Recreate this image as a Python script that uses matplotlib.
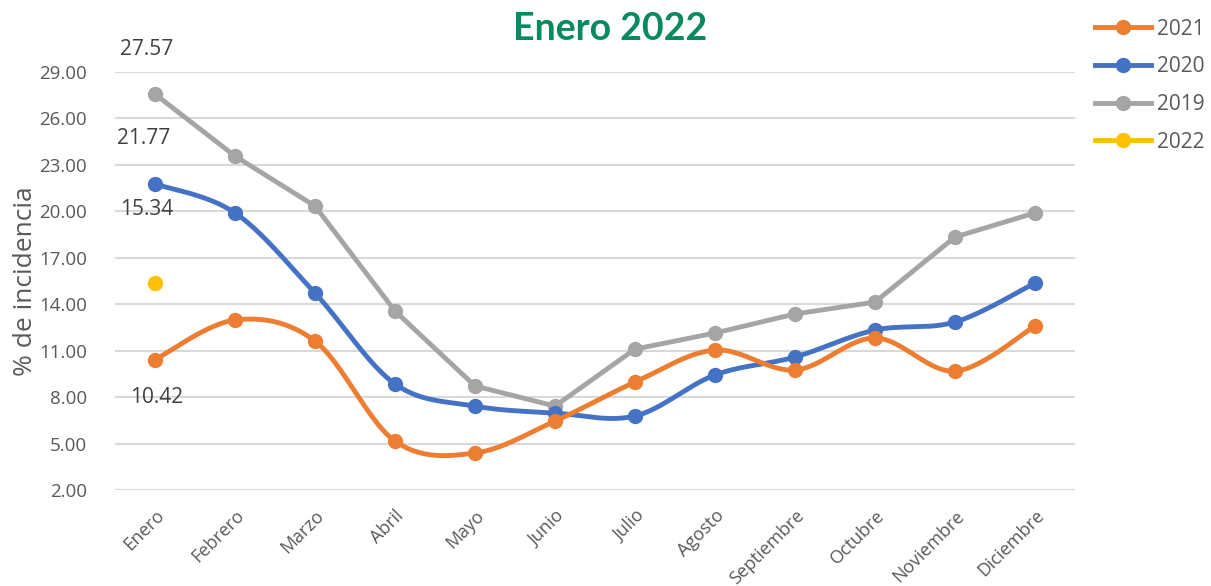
import numpy as np
import matplotlib
matplotlib.use("Agg")
import matplotlib.pyplot as plt
from matplotlib.lines import Line2D

months = ["Enero", "Febrero", "Marzo", "Abril", "Mayo", "Junio", "Julio",
          "Agosto", "Septiembre", "Octubre", "Noviembre", "Diciembre"]
y2021 = [10.42, 12.98, 11.62, 5.16, 4.39, 6.45, 8.97, 11.04, 9.75, 11.82, 9.68, 12.59]
y2020 = [21.77, 19.90, 14.72, 8.85, 7.42, 6.97, 6.78, 9.43, 10.59, 12.33, 12.85, 15.37]
y2019 = [27.57, 23.57, 20.34, 13.56, 8.72, 7.42, 11.10, 12.14, 13.37, 14.14, 18.34, 19.90]
y2022 = [15.34]
yticks = [2, 5, 8, 11, 14, 17, 20, 23, 26, 29]

C21, C20, C19, C22 = "#ED7D31", "#4472C4", "#A5A5A5", "#FFC000"
TXT = "#595959"
FONT = "Open Sans"


def smooth(xs, ys, n=30):
    xs = np.asarray(xs, float); ys = np.asarray(ys, float)
    P = np.column_stack([xs, ys])
    m = len(P)
    out = []
    for i in range(m - 1):
        p0 = P[i - 1] if i > 0 else P[i]
        p1 = P[i]; p2 = P[i + 1]
        p3 = P[i + 2] if i + 2 < m else P[i + 1]
        c1 = p1 + (p2 - p0) / 6.0
        c2 = p2 - (p3 - p1) / 6.0
        t = np.linspace(0, 1, n)[:, None]
        seg = ((1 - t) ** 3) * p1 + 3 * ((1 - t) ** 2) * t * c1 + 3 * (1 - t) * t ** 2 * c2 + t ** 3 * p2
        out.append(seg if i == 0 else seg[1:])
    S = np.vstack(out)
    return S[:, 0], S[:, 1]


fig = plt.figure(figsize=(12.11, 5.86), dpi=100)
ax = fig.add_axes([115 / 1211, 96 / 586, 960 / 1211, 418 / 586])

x = np.arange(len(months))
lw, ms = 3.5, 10

ax.plot(x, y2019, color=C19, lw=lw, marker="o", ms=ms, zorder=3)
sx, sy = smooth(x, y2020)
ax.plot(sx, sy, color=C20, lw=lw, zorder=4)
ax.plot(x, y2020, color=C20, lw=0, marker="o", ms=ms, zorder=4)
sx, sy = smooth(x, y2021)
ax.plot(sx, sy, color=C21, lw=lw, zorder=5)
ax.plot(x, y2021, color=C21, lw=0, marker="o", ms=ms, zorder=5)
ax.plot(x[:len(y2022)], y2022, color=C22, lw=0, marker="o", ms=ms, zorder=6)

lab_kw = dict(fontsize=15, color="#404040", family=FONT, ha="center", va="center", clip_on=False)
ax.annotate(f"{y2019[0]:.2f}", (0, y2019[0]), xytext=(-6, 32), textcoords="offset points", **lab_kw)
ax.annotate(f"{y2020[0]:.2f}", (0, y2020[0]), xytext=(-8, 33), textcoords="offset points", **lab_kw)
ax.annotate(f"{y2022[0]:.2f}", (0, y2022[0]), xytext=(-6, 53), textcoords="offset points", **lab_kw)
ax.annotate(f"{y2021[0]:.2f}", (0, y2021[0]), xytext=(1, -27), textcoords="offset points", **lab_kw)

ax.set_xlim(-0.5, len(months) - 0.5)
ax.set_ylim(2, 29)
ax.set_yticks(yticks)
ax.set_yticklabels([f"{v:.2f}" for v in yticks], fontsize=13.5, color=TXT, family=FONT)
ax.set_xticks(x)
ax.set_xticklabels(months, rotation=45, ha="right", rotation_mode="anchor",
                   fontsize=13, color=TXT, family=FONT)
ax.tick_params(axis="y", length=0, pad=20)
ax.tick_params(axis="x", length=0, pad=12)
ax.grid(axis="y", color="#D9D9D9", lw=1.5)
ax.set_axisbelow(True)
for s in ax.spines.values():
    s.set_visible(False)
ax.set_ylabel("% de incidencia", fontsize=19, color=TXT, family=FONT)
ax.yaxis.set_label_coords((38 - 115) / 960, 0.5)

fig.text(610 / 1211, 1 - 29 / 586, "Enero 2022", ha="center", va="center",
         fontsize=27, fontweight="bold", color="#078A5C", family="Lato")

handles = [Line2D([], [], color=c, lw=lw, marker="o", ms=ms) for c in (C21, C20, C19, C22)]
fig.legend(handles, ["2021", "2020", "2019", "2022"], loc="upper left",
           bbox_to_anchor=(1076 / 1211, 1 - 0 / 586), frameon=False,
           prop={"family": FONT, "size": 15}, labelcolor=TXT,
           handlelength=2.7, handletextpad=0.3, labelspacing=0.8)

fig.savefig("out.png", dpi=100)
